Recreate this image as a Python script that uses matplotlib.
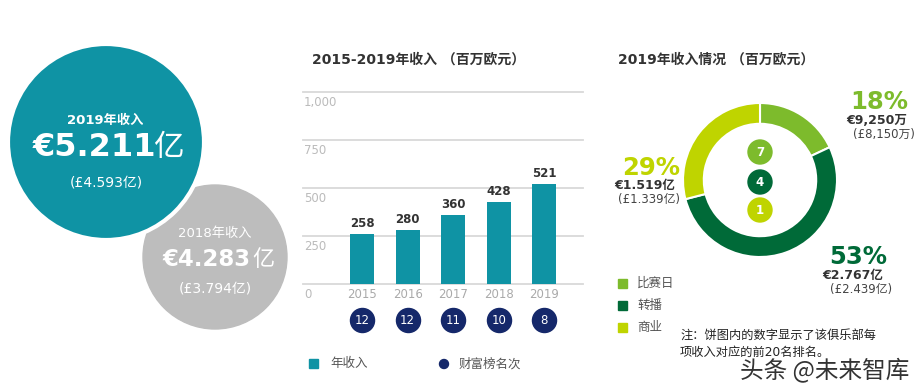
import matplotlib
matplotlib.use("Agg")
import matplotlib.pyplot as plt
from matplotlib.patches import Circle, Rectangle

plt.rcParams['font.family'] = ['DejaVu Sans', 'Noto Sans CJK SC']

# ---------------- data ----------------
years = ['2015', '2016', '2017', '2018', '2019']
revenue = [258, 280, 360, 428, 521]
ranks = [12, 12, 11, 10, 8]
y_ticks = [0, 250, 500, 750, 1000]
y_tick_labels = ['0', '250', '500', '750', '1,000']

seg_names = ['比赛日', '转播', '商业']
seg_share = [18, 53, 29]
seg_rank = [7, 4, 1]
seg_eur = ['€9,250万', '€2.767亿', '€1.519亿']
seg_gbp = ['(£8,150万)', '(£2.439亿)', '(£1.339亿)']

rev2019 = ('2019年收入', '€5.211', '亿', '(£4.593亿)')
rev2018 = ('2018年收入', '€4.283', '亿', '(£3.794亿)')

TEAL = '#0F93A4'
GRAY = '#BDBDBD'
NAVY = '#15286A'
SEG_COLORS = ['#7DBB2C', '#006A38', '#BFD400']
DARK = '#333333'

W, H = 917, 391
fig = plt.figure(figsize=(W / 100, H / 100), dpi=100)
fig.patch.set_facecolor('white')

# background overlay axes in pixel coords
bg = fig.add_axes([0, 0, 1, 1])
bg.set_xlim(0, W)
bg.set_ylim(H, 0)
bg.axis('off')

# ---- big circles ----
bg.add_patch(Circle((215, 257), 72, color=GRAY, zorder=1))
bg.add_patch(Circle((106, 142), 98, facecolor=TEAL, edgecolor='white', lw=3, zorder=2))

bg.text(94, 148, rev2019[1], ha='center', va='center', color='white',
        fontsize=23, fontweight='bold', zorder=5)
bg.text(168, 148, rev2019[2], ha='center', va='center', color='white',
        fontsize=22, zorder=5)
bg.text(105, 120, rev2019[0], ha='center', va='center', color='white',
        fontsize=9.5, fontweight='bold', zorder=5)
bg.text(106, 182, rev2019[3], ha='center', va='center', color='white',
        fontsize=10, zorder=5)

bg.text(207, 260, rev2018[1], ha='center', va='center', color='white',
        fontsize=16.5, fontweight='bold', zorder=5)
bg.text(263, 260, rev2018[2], ha='center', va='center', color='white',
        fontsize=16, zorder=5)
bg.text(215, 233, rev2018[0], ha='center', va='center', color='white',
        fontsize=9.5, zorder=5)
bg.text(215, 288, rev2018[3], ha='center', va='center', color='white',
        fontsize=10, zorder=5)

# ---------------- bar chart ----------------
px_per_unit = 45.6
x0_px, x1_px = 303, 583
first_c = 362
xl = -(first_c - x0_px) / px_per_unit
xr = (x1_px - first_c) / px_per_unit
ax = fig.add_axes([x0_px / W, (H - 284) / H, (x1_px - x0_px) / W, 192 / H])
ax.set_xlim(xl, xr)
ax.set_ylim(0, 1000)
for s in ax.spines.values():
    s.set_visible(False)
ax.set_xticks([])
ax.set_yticks([])
ax.patch.set_alpha(0)
upp = 1000 / 192  # data units per pixel
for v, lab in zip(y_ticks, y_tick_labels):
    ax.axhline(v, color='#D9D9D9', lw=1.3, zorder=0, clip_on=False)
    ax.text(xl + 0.02, v - 4 * upp, lab, ha='left', va='top', color='#BBBBBB',
            fontsize=8.5)
xs = list(range(len(years)))
ax.bar(xs, revenue, width=0.53, color=TEAL, zorder=2)
for x, v in zip(xs, revenue):
    ax.text(x, v + 4 * upp, str(v), ha='center', va='bottom', color=DARK,
            fontsize=8.5, fontweight='bold')
for x, yr in zip(xs, years):
    ax.text(x, -10 * upp, yr, ha='center', va='center', color='#AAAAAA',
            fontsize=8.5, clip_on=False)
ax.scatter(xs, [-36 * upp] * len(xs), s=300, color=NAVY, clip_on=False, zorder=3)
for x, r in zip(xs, ranks):
    ax.text(x, -36 * upp, str(r), ha='center', va='center', color='white',
            fontsize=8.5, clip_on=False, zorder=4)

fig.text(312 / W, 1 - 60 / H, '2015-2019年收入 （百万欧元）', ha='left', va='center',
         fontsize=10, fontweight='bold', color=DARK)

# bar legend
bg.add_patch(Rectangle((309, 359), 9, 9, color=TEAL))
bg.text(330, 364, '年收入', ha='left', va='center', color='#555555', fontsize=9)
bg.add_patch(Circle((444, 364), 4.5, color=NAVY))
bg.text(459, 364, '财富榜名次', ha='left', va='center', color='#555555', fontsize=9)

# ---------------- donut ----------------
cx, cy, R = 760, 180, 77
pax = fig.add_axes([(cx - R) / W, (H - cy - R) / H, 2 * R / W, 2 * R / H])
pax.pie(seg_share, colors=SEG_COLORS, startangle=90, counterclock=False,
        radius=1, wedgeprops=dict(width=0.27, edgecolor='white', linewidth=1.5))
pax.set_xlim(-1, 1)
pax.set_ylim(-1, 1)
pax.axis('off')

for (yy, r, c) in zip([152, 182, 210], seg_rank, SEG_COLORS):
    bg.add_patch(Circle((760, yy), 12, color=c, zorder=3))
    bg.text(760, yy, str(r), ha='center', va='center', color='white',
            fontsize=8.5, fontweight='bold', zorder=4)

fig.text(618 / W, 1 - 60 / H, '2019年收入情况 （百万欧元）', ha='left', va='center',
         fontsize=10, fontweight='bold', color=DARK)

# segment labels: (right x of pct, y of pct, dx eur, dx gbp)
lab_pos = [(908, 102, -1, 7), (887, 257, -4, 5), (680, 168, -5, 0)]
for i, (lx, ly, de, dg) in enumerate(lab_pos):
    bg.text(lx, ly, f'{seg_share[i]}%', ha='right', va='center',
            color=SEG_COLORS[i], fontsize=17.5, fontweight='bold')
    bg.text(lx + de, ly + 18, seg_eur[i], ha='right', va='center',
            color=DARK, fontsize=9, fontweight='bold')
    bg.text(lx + dg, ly + 32, seg_gbp[i], ha='right', va='center',
            color='#444444', fontsize=8.5)

# donut legend
for yy, name, c in zip([283, 305, 327], seg_names, SEG_COLORS):
    bg.add_patch(Rectangle((618, yy - 4.5), 9, 9, color=c))
    bg.text(637, yy, name, ha='left', va='center', color='#555555', fontsize=9)

bg.text(680, 335, '注：饼图内的数字显示了该俱乐部每', ha='left', va='center',
        color='#222222', fontsize=8.8)
bg.text(680, 352, '项收入对应的前20名排名。', ha='left', va='center',
        color='#222222', fontsize=8.8)
bg.text(740, 370, '头条 @未来智库', ha='left', va='center', color='#333333',
        fontsize=17, family=['Noto Sans CJK SC', 'DejaVu Sans'], fontweight='light')

fig.savefig('out.png', dpi=100, facecolor='white')
